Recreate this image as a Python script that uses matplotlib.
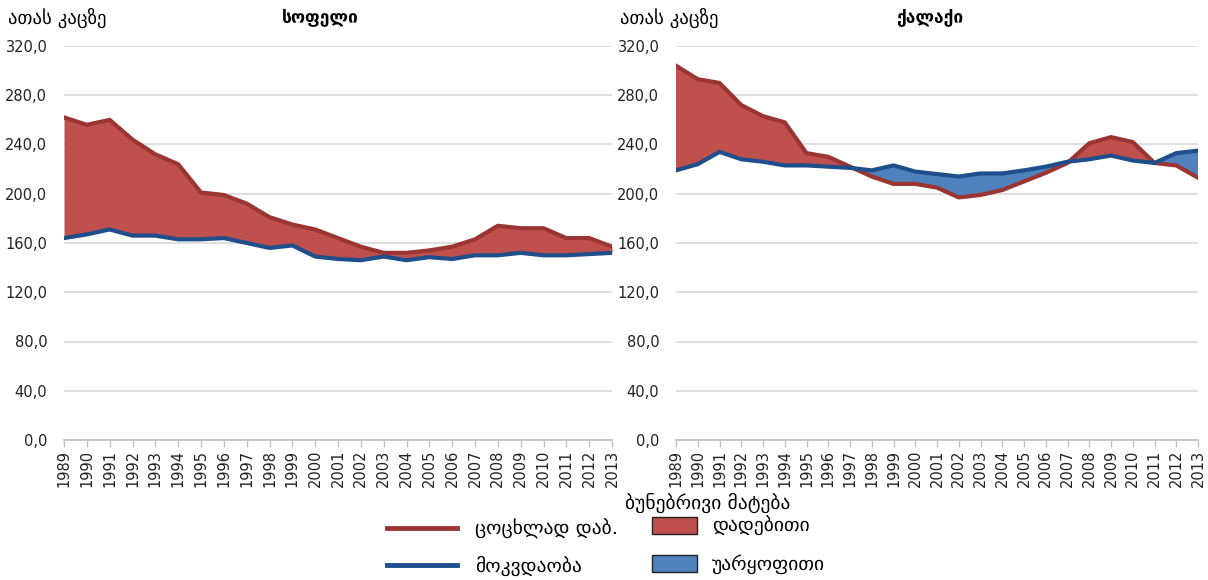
import matplotlib.pyplot as plt
from matplotlib.lines import Line2D
from matplotlib.patches import Patch
import numpy as np

plt.rcParams["font.family"] = ["DejaVu Sans"]

years = list(range(1989, 2014))

# births / deaths per thousand, village
village_births = [262, 256, 260, 244, 232, 224, 201, 199, 192, 181, 175, 171,
                  164, 157, 152, 152, 154, 157, 163, 174, 172, 172, 164, 164, 157]
village_deaths = [164, 167, 171, 166, 166, 163, 163, 164, 160, 156, 158, 149,
                  147, 146, 149, 146, 148.5, 147, 150, 150, 152, 150, 150, 151, 152]

# births / deaths per thousand, city
city_births = [304, 293, 290, 272, 263, 258, 233, 230, 222, 214, 208, 208,
               205, 197, 199, 203, 210, 217, 225, 241, 246, 242, 225, 223, 213]
city_deaths = [219, 224, 234, 228, 226, 223, 223, 222, 221, 219, 223, 218,
               216, 214, 216.5, 216.5, 219, 222, 226, 228, 231, 227, 225, 233, 235]

panel_titles = ["სოფელი", "ქალაქი"]
unit_label = "ათას კაცზე"
yticks = [0, 40, 80, 120, 160, 200, 240, 280, 320]

RED_FILL = "#C0504D"
RED_LINE = "#9B3533"
BLUE_FILL = "#4F81BD"
BLUE_LINE = "#1F4E8C"
GRID = "#D9D9D9"

W, H = 1208, 580
fig = plt.figure(figsize=(W / 100, H / 100), dpi=100)


def fx(px):
    return px / W


def fy(py):
    return 1 - py / H


panels = [
    (64, 612, village_births, village_deaths, 8, 320),
    (676, 1198, city_births, city_deaths, 620, 930),
]

for i, (x0, x1, births, deaths, unit_x, title_x) in enumerate(panels):
    ax = fig.add_axes([fx(x0), fy(440), fx(x1 - x0), fy(46) - fy(440)])
    b = np.array(births, dtype=float)
    d = np.array(deaths, dtype=float)
    ax.fill_between(years, d, b, where=b >= d, interpolate=True,
                    color=RED_FILL, lw=0, zorder=2)
    ax.fill_between(years, d, b, where=b <= d, interpolate=True,
                    color=BLUE_FILL, lw=0, zorder=2)
    ax.plot(years, b, color=RED_LINE, lw=3, solid_joinstyle="round", zorder=3)
    ax.plot(years, d, color=BLUE_LINE, lw=3, solid_joinstyle="round", zorder=4)

    ax.set_xlim(1989, 2013)
    ax.set_ylim(0, 320)
    ax.set_yticks(yticks)
    ax.set_yticklabels([f"{v:.1f}".replace(".", ",") for v in yticks])
    ax.set_xticks(years)
    ax.set_xticklabels([str(y) for y in years], rotation=90)
    ax.grid(axis="y", color=GRID, lw=1.2, zorder=0)
    ax.set_axisbelow(True)
    for side in ("left", "right", "top"):
        ax.spines[side].set_visible(False)
    ax.spines["bottom"].set_color("#BFBFBF")
    ax.spines["bottom"].set_linewidth(1.2)
    ax.tick_params(axis="y", length=0, pad=12, labelsize=10.5, colors="#222222")
    ax.tick_params(axis="x", length=5, width=1, color="#BFBFBF", pad=2,
                   labelsize=10.5, labelcolor="#222222")
    ax.patch.set_alpha(0)

    fig.text(fx(unit_x), fy(18), unit_label, fontsize=13.5, va="center", ha="left")
    fig.text(fx(title_x), fy(18), panel_titles[i], fontsize=12.5, fontweight="bold",
             va="center", ha="center")

# legend: lines on the left, sign of natural increase on the right
line_handles = [Line2D([], [], color=RED_LINE, lw=3.5),
                Line2D([], [], color=BLUE_LINE, lw=3.5)]
fig.legend(line_handles, ["ცოცხლად დაბ.", "მოკვდაობა"],
           loc="upper left", bbox_to_anchor=(fx(387), fy(519)),
           frameon=False, fontsize=14, handlelength=3.6, handletextpad=0.95,
           labelspacing=0.85, borderpad=0, borderaxespad=0)

patch_handles = [Patch(facecolor=RED_FILL, edgecolor="#222222", lw=1),
                 Patch(facecolor=BLUE_FILL, edgecolor="#222222", lw=1)]
fig.legend(patch_handles, ["დადებითი", "უარყოფითი"],
           loc="upper left", bbox_to_anchor=(fx(652), fy(516)),
           frameon=False, fontsize=14, handlelength=2.3, handleheight=1.0,
           handletextpad=0.8, labelspacing=0.95, borderpad=0, borderaxespad=0)

fig.text(fx(625), fy(503), "ბუნებრივი მატება", fontsize=14, va="center", ha="left")

fig.savefig("out.png", dpi=100)
